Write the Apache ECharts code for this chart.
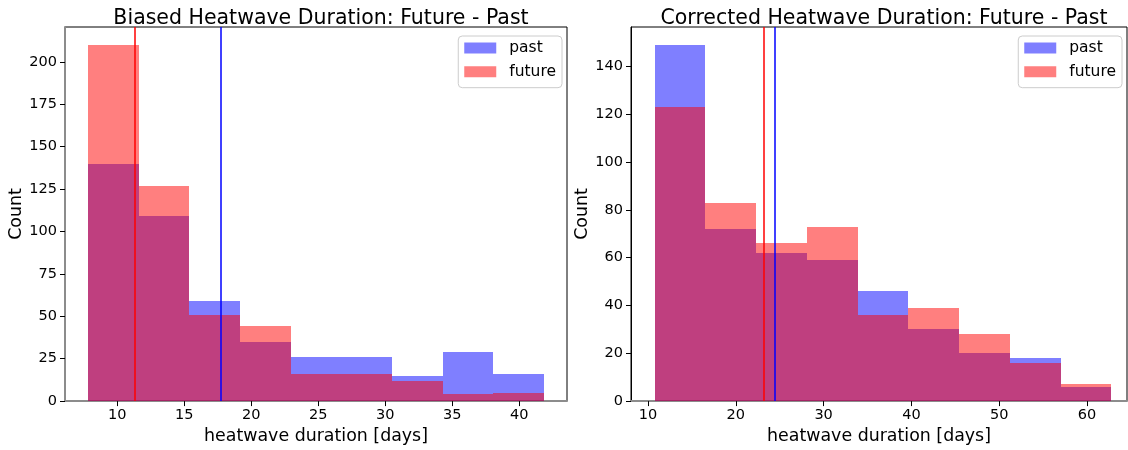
<!DOCTYPE html>
<html>
<head>
<meta charset="utf-8">
<script src="https://cdn.jsdelivr.net/npm/echarts@6/dist/echarts.min.js"></script>
<style>
  html, body { margin: 0; padding: 0; background: #ffffff; }
  #chart { width: 1128px; height: 450px; }
</style>
</head>
<body>
<div id="chart"></div>
<script>
// ---- Biased heatwave durations (left panel) ----
const biasedEdges = [7.83, 11.61, 15.39, 19.17, 22.95, 26.73, 30.51, 34.29, 38.07, 41.85];
const biasedPast = [140, 109, 59, 35, 26, 26, 15, 29, 16];
const biasedFuture = [210, 127, 51, 44, 16, 16, 12, 4, 5];
const biasedMeanPast = 17.7;
const biasedMeanFuture = 11.3;
const biasedXTicks = [10, 15, 20, 25, 30, 35, 40];
const biasedYTicks = [0, 25, 50, 75, 100, 125, 150, 175, 200];

// ---- Corrected heatwave durations (right panel) ----
const correctedEdges = [10.75, 16.53, 22.31, 28.09, 33.87, 39.65, 45.43, 51.21, 56.99, 62.77];
const correctedPast = [149, 72, 62, 59, 46, 30, 20, 18, 6];
const correctedFuture = [123, 83, 66, 73, 36, 39, 28, 16, 7];
const correctedMeanPast = 24.4;
const correctedMeanFuture = 23.2;
const correctedXTicks = [10, 20, 30, 40, 50, 60];
const correctedYTicks = [0, 20, 40, 60, 80, 100, 120, 140];

const FONT = 'DejaVu Sans';
const PAST_FILL = 'rgba(0, 0, 255, 0.5)';
const FUTURE_FILL = 'rgba(255, 0, 0, 0.5)';

// Turn bin edges + counts into [left, right, count] rows
function binRows(edges, counts) {
  return counts.map((c, i) => [edges[i], edges[i + 1], c]);
}

// Each bin is a rectangle snapped to whole pixels so neighbouring bins meet cleanly
function renderBin(fill) {
  return function (params, api) {
    const p0 = api.coord([api.value(0), 0]);
    const p1 = api.coord([api.value(1), api.value(2)]);
    const x0 = Math.round(p0[0]);
    const x1 = Math.round(p1[0]);
    const yb = Math.round(p0[1]);
    const yt = Math.round(p1[1]);
    return {
      type: 'rect',
      shape: { x: x0, y: yt, width: x1 - x0, height: yb - yt },
      style: { fill: fill }
    };
  };
}

function histSeries(name, idx, edges, counts, fill, mean, lineColor) {
  return {
    type: 'custom',
    name: name,
    xAxisIndex: idx,
    yAxisIndex: idx,
    renderItem: renderBin(fill),
    encode: { x: [0, 1], y: 2 },
    data: binRows(edges, counts),
    clip: true,
    z: 2,
    markLine: {
      silent: true,
      symbol: 'none',
      label: { show: false },
      lineStyle: { color: lineColor, width: 1.5, type: 'solid' },
      data: [{ xAxis: mean }]
    }
  };
}

function xAxisCfg(idx, min, max, ticks, spineColor, spineWidth) {
  return {
    type: 'value', gridIndex: idx, min: min, max: max,
    name: 'heatwave duration [days]', nameLocation: 'middle', nameGap: 22,
    nameTextStyle: { fontFamily: FONT, fontSize: 17.4, color: '#000' },
    axisLine: { show: true, onZero: false, lineStyle: { color: spineColor, width: spineWidth } },
    axisTick: { show: true, inside: false, length: 5, lineStyle: { color: '#000', width: 1 }, customValues: ticks },
    axisLabel: { show: true, margin: 7, fontFamily: FONT, fontSize: 14.5, color: '#000', customValues: ticks },
    splitLine: { show: false }
  };
}

function yAxisCfg(idx, min, max, ticks, spineColor, spineWidth, gap) {
  return {
    type: 'value', gridIndex: idx, min: min, max: max,
    name: 'Count', nameLocation: 'middle', nameGap: gap,
    nameTextStyle: { fontFamily: FONT, fontSize: 17.4, color: '#000' },
    axisLine: { show: true, onZero: false, lineStyle: { color: spineColor, width: spineWidth } },
    axisTick: { show: true, inside: false, length: 5, lineStyle: { color: '#000', width: 1 }, customValues: ticks },
    axisLabel: { show: true, margin: 8, fontFamily: FONT, fontSize: 14.5, color: '#000', customValues: ticks },
    splitLine: { show: false }
  };
}

function legendCfg(right) {
  return {
    orient: 'vertical', right: right, top: 36,
    data: [
      { name: 'past', itemStyle: { color: PAST_FILL } },
      { name: 'future', itemStyle: { color: FUTURE_FILL } }
    ],
    icon: 'rect', itemWidth: 32, itemHeight: 11, itemGap: 7.7,
    padding: [4, 6, 8, 6],
    backgroundColor: 'rgba(255,255,255,0.8)',
    borderColor: '#cccccc', borderWidth: 1, borderRadius: 4,
    selectedMode: false,
    textStyle: { fontFamily: FONT, fontSize: 15.5, color: '#000', lineHeight: 16, padding: [0, 0, 0, 8] }
  };
}

const chart = echarts.init(document.getElementById('chart'), null, { renderer: 'canvas' });

chart.setOption({
  animation: false,
  backgroundColor: '#ffffff',
  title: [
    { text: 'Biased Heatwave Duration: Future - Past', left: 316, top: 3, textAlign: 'center',
      textStyle: { fontFamily: FONT, fontSize: 20.5, fontWeight: 'normal', color: '#000' } },
    { text: 'Corrected Heatwave Duration: Future - Past', left: 879, top: 3, textAlign: 'center',
      textStyle: { fontFamily: FONT, fontSize: 20.5, fontWeight: 'normal', color: '#000' } }
  ],
  legend: [legendCfg(566), legendCfg(6)],
  grid: [
    { left: 65, top: 27, width: 502, height: 378, show: true, borderColor: '#000', borderWidth: 1, containLabel: false },
    { left: 631, top: 27, width: 496, height: 378, show: true, borderColor: '#000', borderWidth: 1, containLabel: false }
  ],
  xAxis: [
    xAxisCfg(0, 6.10, 43.56, biasedXTicks, '#8c8c8c', 2),
    xAxisCfg(1, 8.06, 64.56, correctedXTicks, '#8c8c8c', 2)
  ],
  yAxis: [
    yAxisCfg(0, 0, 220.5, biasedYTicks, '#8c8c8c', 2, 39),
    yAxisCfg(1, 0, 156.45, correctedYTicks, '#000', 1, 40)
  ],
  series: [
    histSeries('past', 0, biasedEdges, biasedPast, PAST_FILL, biasedMeanPast, '#0000ff'),
    histSeries('future', 0, biasedEdges, biasedFuture, FUTURE_FILL, biasedMeanFuture, '#ff0000'),
    histSeries('past', 1, correctedEdges, correctedPast, PAST_FILL, correctedMeanPast, '#0000ff'),
    histSeries('future', 1, correctedEdges, correctedFuture, FUTURE_FILL, correctedMeanFuture, '#ff0000')
  ]
});
</script>
</body>
</html>
